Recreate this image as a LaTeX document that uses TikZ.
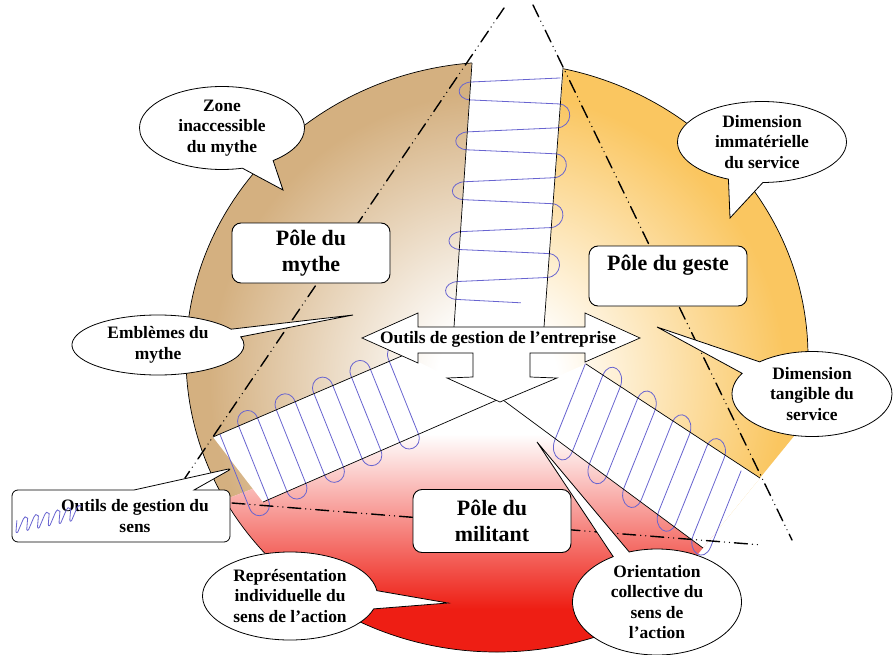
\documentclass[tikz,border=0pt]{standalone}
\usepackage{fontspec}
\setmainfont{Liberation Serif}
\usepackage{tikz}
\usetikzlibrary{shapes.callouts}
\usepackage{xcolor}

\definecolor{mythecol}{RGB}{212,176,128}
\definecolor{gestecol}{RGB}{250,198,96}
\definecolor{militantcol}{RGB}{238,30,20}
\definecolor{coilcol}{RGB}{104,100,208}

\pgfdeclareradialshading{mythefade}{\pgfpoint{0bp}{0bp}}{color(0bp)=(white); color(2.5bp)=(white); color(12bp)=(mythecol); color(50bp)=(mythecol)}
\pgfdeclareradialshading{gestefade}{\pgfpoint{0bp}{0bp}}{color(0bp)=(white); color(2.5bp)=(white); color(12bp)=(gestecol); color(50bp)=(gestecol)}
\pgfdeclareverticalshading{militantfade}{100bp}{color(0bp)=(militantcol); color(38bp)=(militantcol); color(63bp)=(white); color(100bp)=(white)}

\begin{document}
\begin{tikzpicture}[x=1bp, y=-1bp, font=\bfseries,
    bubble/.style={ellipse callout, draw, fill=white, line width=0.8bp, inner sep=0pt, align=center,
      callout pointer arc=24, font=\bfseries\fontsize{17.5}{20.5}\selectfont},
    polebox/.style={draw, fill=white, line width=0.9bp, rounded corners=9bp, align=center,
      minimum width=158bp, minimum height=60bp, font=\bfseries\fontsize{22}{26}\selectfont},
    coilline/.style={draw=coilcol, line width=0.8bp},
    stripedge/.style={line width=0.7bp},
    axisline/.style={line width=1.4bp, line cap=round, dash pattern=on 13bp off 5bp on 0bp off 5bp on 0bp off 5bp}]

    \path[use as bounding box, fill=white] (0,0) rectangle (893,655);

    % the three poles
    \begin{scope}
      \clip (1149,0) -- (532,758) -- (-300,758) -- (-300,-300) -- (1149,-300) -- cycle;
      \begin{scope}
        \clip (497,357) ellipse [x radius=311bp, y radius=295bp];
        \begin{scope}
          \clip (495,395) -- (-200,664) -- (-200,-100) -- (528,-100) -- cycle;
          \shade[shading=mythefade] (497,380) circle (600bp);
        \end{scope}
        \begin{scope}
          \clip (495,395) -- (528,-100) -- (1100,-100) -- (1100,767) -- cycle;
          \shade[shading=gestefade] (497,380) circle (600bp);
        \end{scope}
        \begin{scope}
          \clip (495,395) -- (1100,767) -- (1100,800) -- (-200,800) -- (-200,664) -- cycle;
          \shade[shading=militantfade] (100,350) rectangle (900,700);
        \end{scope}
      \end{scope}
      \draw[line width=0.7bp] (497,357) ellipse [x radius=311bp, y radius=295bp];
    \end{scope}

    % strips
    \fill[white] (474,30) -- (566,35) -- (544,327) -- (454,327) -- cycle;
    \fill[white] (213,437) -- (404,355) -- (497,400) -- (263,502) -- cycle;
    \fill[white] (586,364) -- (760,478) -- (703,548) -- (503,400) -- cycle;

    \begin{scope}[shift={(517,66)}, rotate=-93.9]
      \draw[coilline] (9,-44) \foreach \i in {0,...,3}{
        -- ({\i*50+19},44) .. controls ({\i*50+20.6},60) and ({\i*50+37.3},60) .. ({\i*50+37},44)
        -- ({\i*50+35},-44) .. controls ({\i*50+34.7},-60) and ({\i*50+57.4},-60) .. ({\i*50+59},-44)}
        -- (219,44) .. controls (220.6,60) and (237.3,60) .. (237,44) -- (236,-20);
    \end{scope}
    \begin{scope}[shift={(238,470)}, rotate=24]
      \draw[coilline] (-2,-40) \foreach \i in {0,...,4}{
        -- ({\i*41-5},40) .. controls ({\i*41-5.5},55) and ({\i*41+15},55) .. ({\i*41+15.5},40)
        -- ({\i*41+18.5},-40) .. controls ({\i*41+19},-55) and ({\i*41+39.5},-55) .. ({\i*41+39},-40)};
    \end{scope}
    \begin{scope}[shift={(543,383)}, rotate=-34.5]
      \draw[coilline] (24,-40) \foreach \i in {0,...,3}{
        -- ({\i*42+42},40) .. controls ({\i*42+46},58) and ({\i*42+67},58) .. ({\i*42+63},40)
        -- ({\i*42+45},-40) .. controls ({\i*42+41},-58) and ({\i*42+62},-58) .. ({\i*42+66},-40)}
        -- (210,40) .. controls (214,58) and (235,58) .. (231,40) -- (213,-40);
    \end{scope}

    \draw[stripedge] (472,63) -- (454,327);
    \draw[stripedge] (563,68) -- (544,327);
    \draw[stripedge] (213,437) -- (404,355);
    \draw[stripedge] (263,502) -- (497,400);
    \draw[stripedge] (586,364) -- (760,478);
    \draw[stripedge] (503,400) -- (703,548);

    % pole boundaries
    \draw[axisline] (504,8) -- (185,478);
    \draw[axisline] (533,5) -- (792,540);
    \draw[axisline] (232,503) -- (762,545);

    % central arrow
    \draw[fill=white, line width=0.7bp] (362,338) -- (418,313) -- (418,327) -- (585,327) -- (585,313)
      -- (640,338) -- (585,362) -- (585,353) -- (530,353) -- (530,377) -- (557,378) -- (500,402)
      -- (447,378) -- (473,377) -- (473,353) -- (418,353) -- (418,363) -- cycle;
    \node[font=\bfseries\fontsize{17.5}{20}\selectfont, inner sep=0pt] (entreprise) at (498,339) {Outils de gestion de l’entreprise};

    \node[polebox] (mythe) at (311,253) {Pôle du\\mythe};
    \node[polebox] (geste) at (668,276) {Pôle du geste\\ \mbox{}};
    \node[polebox, minimum height=63bp] (militant) at (492,521) {Pôle du\\militant};

    \node[bubble, minimum width=165bp, minimum height=83bp, callout absolute pointer={(283,190)}] (zone) at (222,128) {Zone\\inaccessible\\du mythe};
    \node[bubble, minimum width=169bp, minimum height=81bp, callout absolute pointer={(730,218)}] (immaterielle) at (762,142) {Dimension\\immatérielle\\du service};
    \node[bubble, minimum width=172bp, minimum height=60bp, callout pointer arc=16, callout absolute pointer={(353,315)}] (emblemes) at (158,345) {Emblèmes du\\mythe};
    \node[bubble, minimum width=160bp, minimum height=85bp, callout pointer arc=20, callout absolute pointer={(657,327)}] (tangible) at (812,394) {Dimension\\tangible du\\service};
    \node[bubble, minimum width=175bp, minimum height=88bp, callout absolute pointer={(448,603)}] (representation) at (290,596) {Représentation\\individuelle du\\sens de l’action};
    \node[bubble, minimum width=169bp, minimum height=106bp, callout pointer arc=12, callout absolute pointer={(537,442)}] (orientation) at (657,602) {Orientation\\collective du\\sens de\\l’action};
    \node[rectangle callout, draw, fill=white, line width=0.8bp, rounded corners=6bp, minimum width=218bp, minimum height=52bp,
      callout pointer width=60bp, callout absolute pointer={(233,468)}, align=center,
      font=\bfseries\fontsize{17.5}{20.5}\selectfont] (sens) at (121,516) {\hspace*{28bp}Outils de gestion du\\\hspace*{28bp}sens};

    % coil legend
    \begin{scope}[shift={(15,526)}, rotate=12]
      \draw[coilline] (3,-5) \foreach \i in {0,...,5}{
        -- ({\i*11},5) .. controls ({\i*11-1},7.5) and ({\i*11+1.5},7.5) .. ({\i*11+2.5},5)
        -- ({\i*11+9.5},-5) .. controls ({\i*11+10.5},-7.5) and ({\i*11+13},-7.5) .. ({\i*11+14},-5)};
    \end{scope}
  \end{tikzpicture}
\end{document}
